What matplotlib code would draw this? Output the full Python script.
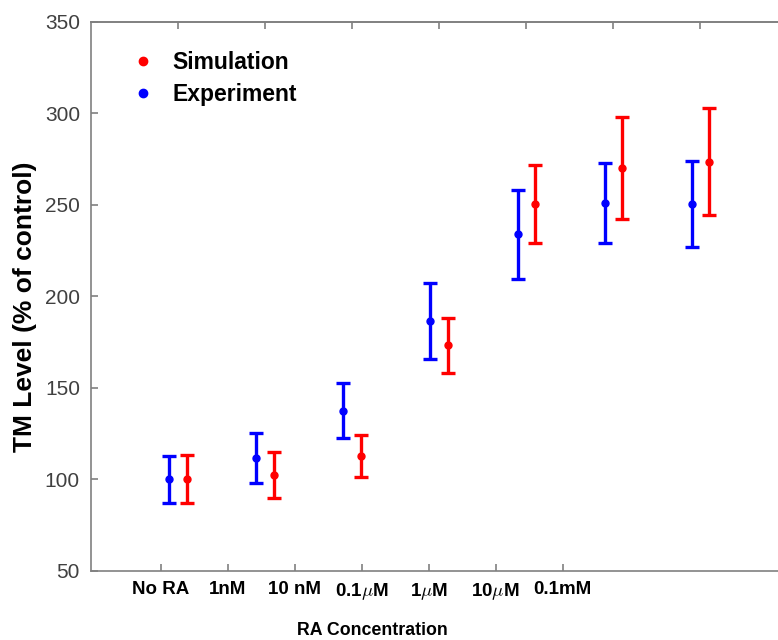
import matplotlib.pyplot as plt
from matplotlib.lines import Line2D
import numpy as np

plt.rcParams['font.family'] = ['Liberation Sans', 'DejaVu Sans']
plt.rcParams['mathtext.fontset'] = 'cm'

# data
labels = ['No RA', '1nM', '10 nM', r'0.1$\mu$M', r'1$\mu$M', r'10$\mu$M', '0.1mM']
groups = np.arange(1, 8)
exp_mean = [100, 111.6, 137.4, 186.5, 234, 251, 250.3]
exp_err = [13, 13.7, 15, 21, 24.3, 22, 23.5]
sim_mean = [100.2, 102.5, 113, 173.3, 250.2, 270, 273.5]
sim_err = [13, 12.7, 11.5, 15, 21.3, 28, 29.2]
# positions of the (misaligned) bottom tick labels, in group units
tick_pos = 0.8 + 0.77 * np.arange(7)

grey = '#808080'

fig = plt.figure(figsize=(7.78, 6.4), dpi=100)
ax = fig.add_axes([0.117, 0.108, 0.895, 0.858])

ax.errorbar(groups - 0.1, exp_mean, yerr=exp_err, fmt='o', color='blue',
            ms=5, elinewidth=2.4, capsize=5, capthick=2.4)
ax.errorbar(groups + 0.1, sim_mean, yerr=sim_err, fmt='o', color='red',
            ms=5, elinewidth=2.4, capsize=5, capthick=2.4)

ax.set_xlim(0, 8)
ax.set_ylim(50, 350)
ax.set_yticks(range(50, 351, 50))
ax.set_xticks(tick_pos)
ax.set_xticklabels(labels, fontsize=13.5, fontweight='bold')
ax.tick_params(axis='y', labelsize=15, labelcolor='#404040', pad=8)
ax.tick_params(axis='x', pad=7.5)
ax.tick_params(direction='in', length=5, color=grey, width=1.2, right=True)
for s in ax.spines.values():
    s.set_color(grey)
    s.set_linewidth(1.2)

top = ax.secondary_xaxis('top')
top.set_xticks(groups)
top.set_xticklabels([])
top.tick_params(direction='in', length=5, color=grey, width=1.2)
top.spines['top'].set_color(grey)
top.spines['top'].set_linewidth(1.2)

ax.set_ylabel('TM Level (% of control)', fontsize=19, fontweight='bold')
ax.yaxis.set_label_coords(-0.078, 0.481)
ax.set_xlabel('RA Concentration', fontsize=12.8, fontweight='bold')
ax.xaxis.set_label_coords(0.404, -0.093)

handles = [Line2D([], [], marker='o', ls='none', color='red', ms=6),
           Line2D([], [], marker='o', ls='none', color='blue', ms=6)]
leg = ax.legend(handles, ['Simulation', 'Experiment'], loc='upper left',
                bbox_to_anchor=(0.045, 0.964), frameon=False,
                prop={'size': 16.5, 'weight': 'bold'}, handlelength=1,
                handletextpad=0.8, labelspacing=0.4, borderaxespad=0)

fig.savefig('out.png', dpi=100)
plt.close()
